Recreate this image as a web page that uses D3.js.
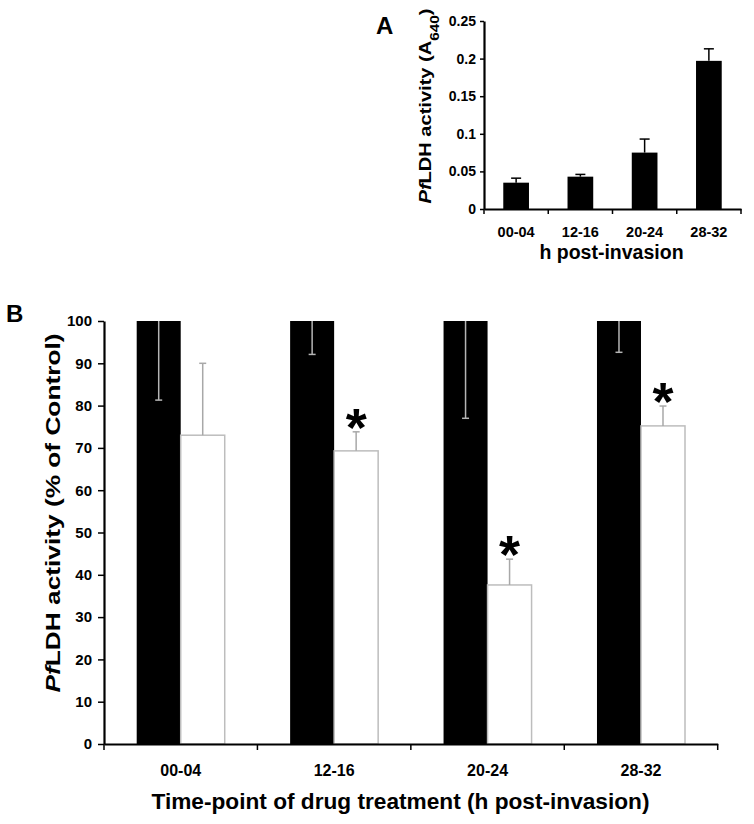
<!DOCTYPE html>
<html><head><meta charset="utf-8">
<script src="https://cdn.jsdelivr.net/npm/d3@7"></script>
<style>
body{margin:0;background:#fff}
text{font-family:"Liberation Sans",Arial,sans-serif;font-weight:bold;fill:#000}
</style>
</head><body>
<svg id="chart" width="754" height="824"></svg>
<script>
// ---- data ----
const categories = ["00-04", "12-16", "20-24", "28-32"];
// Panel A
const aValues = [0.035, 0.043, 0.075, 0.197];
const aErrors = [0.006, 0.003, 0.018, 0.016];
const aTicks = [0, 0.05, 0.1, 0.15, 0.2, 0.25];
// Panel B
const bSeries = ["Control", "Treated"];
const bControl = [100, 100, 100, 100];
const bControlErr = [18.7, 7.9, 23.0, 7.4];
const bTreated = [73.0, 69.3, 37.6, 75.2];
const bTreatedErr = [17.0, 4.5, 6.1, 4.7];
const bSignificant = [false, true, true, true];
const bTicks = [0, 10, 20, 30, 40, 50, 60, 70, 80, 90, 100];

const svg = d3.select("#chart");

// ================= Panel A =================
{
  const g = svg.append("g");
  const x = d3.scaleBand().domain(categories).range([484, 741]).paddingInner(0.6).paddingOuter(0.3);
  const xb = d3.scaleBand().domain(categories).range([484, 741]).padding(0);
  const y = d3.scaleLinear().domain([0, 0.25]).range([209, 21]);

  g.selectAll("rect.a").data(categories).join("rect")
    .attr("x", d => x(d)).attr("width", x.bandwidth())
    .attr("y", (d, i) => y(aValues[i])).attr("height", (d, i) => y(0) - y(aValues[i]))
    .attr("fill", "#000");
  categories.forEach((c, i) => {
    const cx = x(c) + x.bandwidth() / 2;
    g.append("line").attr("x1", cx).attr("x2", cx)
      .attr("y1", y(aValues[i])).attr("y2", y(aValues[i] + aErrors[i]))
      .attr("stroke", "#000").attr("stroke-width", 1.5);
    g.append("line").attr("x1", cx - 5).attr("x2", cx + 5)
      .attr("y1", y(aValues[i] + aErrors[i])).attr("y2", y(aValues[i] + aErrors[i]))
      .attr("stroke", "#000").attr("stroke-width", 1.5);
  });

  const ya = g.append("g").attr("transform", "translate(484,0)")
    .call(d3.axisLeft(y).tickValues(aTicks).tickFormat(d => d3.format("")(d)).tickSize(4).tickSizeOuter(0).tickPadding(4));
  ya.select(".domain").attr("stroke-width", 2.2);
  ya.selectAll(".tick line").attr("stroke-width", 1.5);
  ya.selectAll(".tick text").style("font-size", "14px");

  const xa = g.append("g").attr("transform", "translate(0,209)")
    .call(d3.axisBottom(xb).tickSize(0).tickSizeOuter(0));
  xa.select(".domain").attr("stroke-width", 2.2);
  xa.selectAll(".tick text").style("font-size", "14.5px").attr("dy", 0).attr("y", 28);
  [xb(categories[0])].concat(categories.map(c => xb(c) + xb.bandwidth())).forEach(px => {
    g.append("line").attr("x1", px).attr("x2", px).attr("y1", 209).attr("y2", 214)
      .attr("stroke", "#000").attr("stroke-width", 1.5);
  });

  g.append("text").attr("x", 611.5).attr("y", 259).attr("text-anchor", "middle")
    .style("font-size", "19.5px").text("h post-invasion");

  const yt = g.append("text").attr("transform", "translate(431,106) rotate(-90)")
    .attr("text-anchor", "middle").style("font-size", "17px")
    .attr("textLength", 195).attr("lengthAdjust", "spacingAndGlyphs");
  yt.append("tspan").style("font-style", "italic").text("Pf");
  yt.append("tspan").text("LDH activity (A");
  yt.append("tspan").attr("baseline-shift", "sub").style("font-size", "13px").text("640");
  yt.append("tspan").text(")");

  g.append("text").attr("x", 376).attr("y", 34).style("font-size", "24px").text("A");
}

// ================= Panel B =================
{
  const g = svg.append("g");
  const x = d3.scaleBand().domain(categories).range([104, 717.7]).padding(0);
  const xs = d3.scaleBand().domain(bSeries).range([0, x.bandwidth()]).paddingInner(0).paddingOuter(0.743);
  const y = d3.scaleLinear().domain([0, 100]).range([744, 321]);

  categories.forEach((c, i) => {
    const cx0 = x(c) + xs("Control");
    g.append("rect").attr("x", cx0).attr("width", xs.bandwidth())
      .attr("y", y(bControl[i])).attr("height", y(0) - y(bControl[i])).attr("fill", "#000");
    const cx1 = x(c) + xs("Treated");
    g.append("rect").attr("x", cx1).attr("width", xs.bandwidth())
      .attr("y", y(bTreated[i])).attr("height", y(0) - y(bTreated[i]))
      .attr("fill", "#fff").attr("stroke", "#bdbdbd").attr("stroke-width", 1.5);
  });
  categories.forEach((c, i) => {
    const m0 = x(c) + xs("Control") + xs.bandwidth() / 2;
    const lo = y(bControl[i] - bControlErr[i]);
    g.append("line").attr("x1", m0).attr("x2", m0).attr("y1", y(bControl[i])).attr("y2", lo)
      .attr("stroke", "#b5b5b5").attr("stroke-width", 1.5);
    g.append("line").attr("x1", m0 - 3.5).attr("x2", m0 + 3.5).attr("y1", lo).attr("y2", lo)
      .attr("stroke", "#b5b5b5").attr("stroke-width", 1.5);
    const m1 = x(c) + xs("Treated") + xs.bandwidth() / 2;
    const hi = y(bTreated[i] + bTreatedErr[i]);
    g.append("line").attr("x1", m1).attr("x2", m1).attr("y1", y(bTreated[i])).attr("y2", hi)
      .attr("stroke", "#a8a8a8").attr("stroke-width", 1.5);
    g.append("line").attr("x1", m1 - 3.5).attr("x2", m1 + 3.5).attr("y1", hi).attr("y2", hi)
      .attr("stroke", "#a8a8a8").attr("stroke-width", 1.5);
    if (bSignificant[i]) {
      g.append("text").attr("x", m1).attr("y", hi + 14).attr("text-anchor", "middle")
        .style("font-size", "54px").text("*");
    }
  });

  const ya = g.append("g").attr("transform", "translate(104,0)")
    .call(d3.axisLeft(y).tickValues(bTicks).tickSize(6).tickSizeOuter(0).tickPadding(6));
  ya.select(".domain").attr("stroke-width", 2.2);
  ya.selectAll(".tick line").attr("stroke-width", 1.5);
  ya.selectAll(".tick text").style("font-size", "15px");

  const xa = g.append("g").attr("transform", "translate(0,744)")
    .call(d3.axisBottom(x).tickSize(0).tickSizeOuter(0));
  xa.select(".domain").attr("stroke-width", 2.2);
  xa.selectAll(".tick text").style("font-size", "16px").attr("dy", 0).attr("y", 32);
  [x(categories[0])].concat(categories.map(c => x(c) + x.bandwidth())).forEach(px => {
    g.append("line").attr("x1", px).attr("x2", px).attr("y1", 744).attr("y2", 750)
      .attr("stroke", "#000").attr("stroke-width", 1.5);
  });

  g.append("text").attr("x", 400.5).attr("y", 809).attr("text-anchor", "middle")
    .style("font-size", "22.6px").attr("textLength", 498).attr("lengthAdjust", "spacingAndGlyphs")
    .text("Time-point of drug treatment (h post-invasion)");

  const yt = g.append("text").attr("transform", "translate(60,513) rotate(-90)")
    .attr("text-anchor", "middle").style("font-size", "21px")
    .attr("textLength", 359).attr("lengthAdjust", "spacingAndGlyphs");
  yt.append("tspan").style("font-style", "italic").text("Pf");
  yt.append("tspan").text("LDH activity (% of Control)");

  g.append("text").attr("x", 6).attr("y", 322).style("font-size", "24px").text("B");
}
</script>
</body></html>
